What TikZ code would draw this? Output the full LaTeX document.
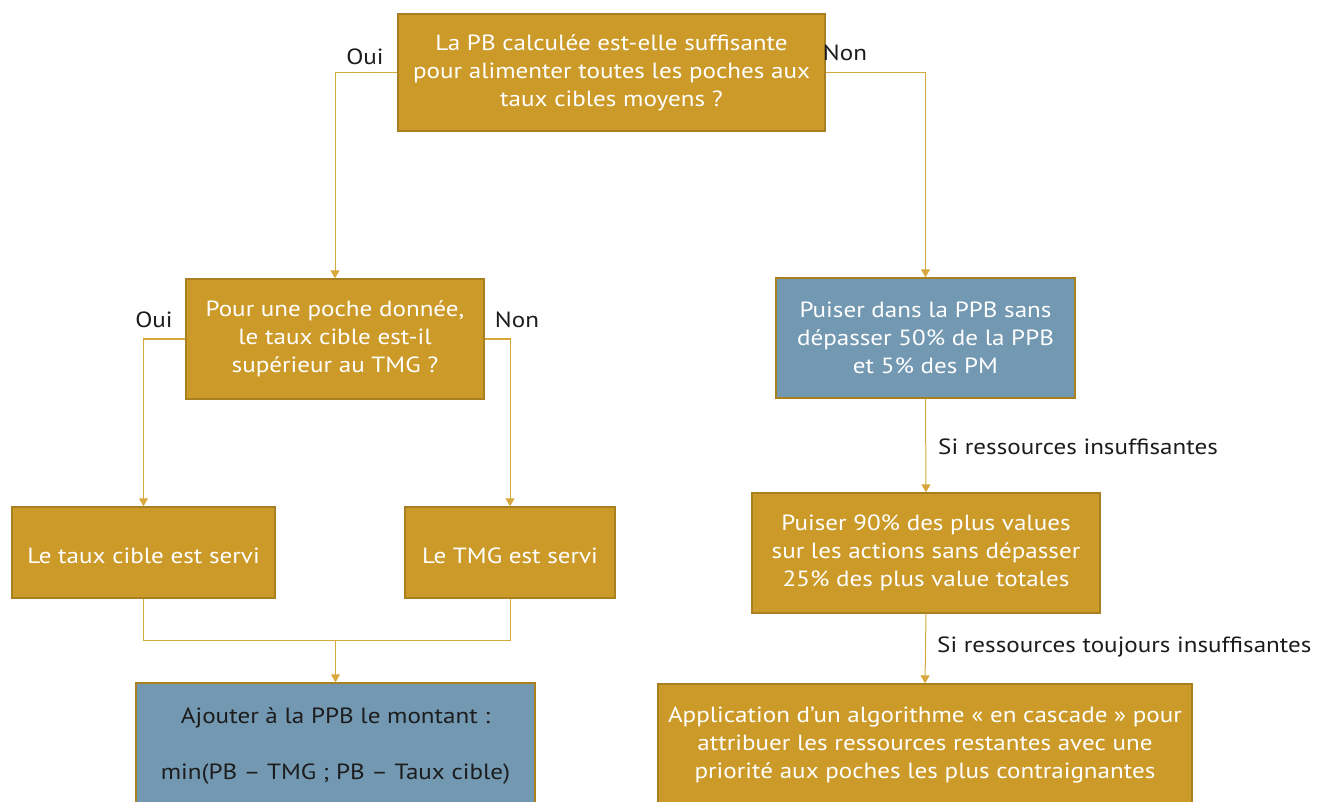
\documentclass[tikz,border=0pt]{standalone}
\usepackage{fontspec}
\setmainfont{PT Sans}[FakeStretch=1.14]
\usetikzlibrary{arrows.meta}
\definecolor{gold}{HTML}{CC9A28}
\definecolor{goldedge}{HTML}{A9801F}
\definecolor{goldline}{HTML}{D7A93C}
\definecolor{steel}{HTML}{7398B2}
\definecolor{ink}{HTML}{1C1C1C}
\tikzset{
  box/.style={draw=goldedge, line width=1.4pt, fill=gold, text=white, align=center,
    inner sep=0pt, font=\fontsize{22}{28}\selectfont,
    execute at begin node={\rule{0pt}{23pt}}},
  bluebox/.style={box, fill=steel},
  link/.style={draw=goldline, line width=1pt},
  arr/.style={link, -{Triangle[width=9pt,length=8pt]}},
  lbl/.style={text=ink, inner sep=0pt, font=\fontsize{22}{28}\selectfont},
}
\begin{document}
\begin{tikzpicture}[x=1pt,y=-1pt]
\useasboundingbox (0,0) rectangle (1328,802);
\clip (0,0) rectangle (1328,802);

% decision boxes
\node[box, minimum width=427, minimum height=117] (q1) at (611.5,72.5)
  {La PB calculée est-elle suffisante\\pour alimenter toutes les poches aux\\taux cibles moyens ?};
\node[box, minimum width=298, minimum height=120] (q2) at (335,339)
  {Pour une poche donnée,\\le taux cible est-il\\supérieur au TMG ?};

% left branch
\node[box, minimum width=263, minimum height=91] (b4) at (143.5,552.5) {Le taux cible est servi};
\node[box, minimum width=210, minimum height=91] (b5) at (510,552.5) {Le TMG est servi};
\node[bluebox, text=ink, minimum width=399, minimum height=126] (b6) at (335.5,746)
  {Ajouter à la PPB le montant :\\[28pt]min(PB – TMG ; PB – Taux cible)};

% right branch
\node[bluebox, minimum width=299, minimum height=120] (p1) at (925.5,338)
  {Puiser dans la PPB sans\\dépasser 50\% de la PPB\\et 5\% des PM};
\node[box, minimum width=348, minimum height=120] (b7) at (926,553)
  {Puiser 90\% des plus values\\sur les actions sans dépasser\\25\% des plus value totales};
\node[box, minimum width=534, minimum height=122] (b8) at (925,745)
  {Application d{\char"0027}un algorithme « en cascade » pour\\attribuer les ressources restantes avec une\\priorité aux poches les plus contraignantes};

% connectors
\draw[arr] (q1.west) -| (q2.north);
\draw[arr] (q1.east) -| (p1.north);
\draw[arr] (q2.west) -| (b4.north);
\draw[arr] (q2.east) -| (b5.north);
\coordinate (m) at (335.5,640);
\draw[link] (b4.south) |- (m);
\draw[link] (b5.south) |- (m);
\draw[arr] (m) -- (b6.north);
\draw[arr] (p1.south) -- (b7.north);
\draw[arr] (b7.south) -- (b8.north);

% labels
\node[lbl] (l1) at (365,57) {Oui};
\node[lbl] (l2) at (845,53) {Non};
\node[lbl] (l3) at (154,320) {Oui};
\node[lbl] (l4) at (517,320) {Non};
\node[lbl, anchor=west] (l5) at (938,447) {Si ressources insuffisantes};
\node[lbl, anchor=west] (l6) at (937,647) {Si ressources toujours insuffisantes};
\end{tikzpicture}
\end{document}
